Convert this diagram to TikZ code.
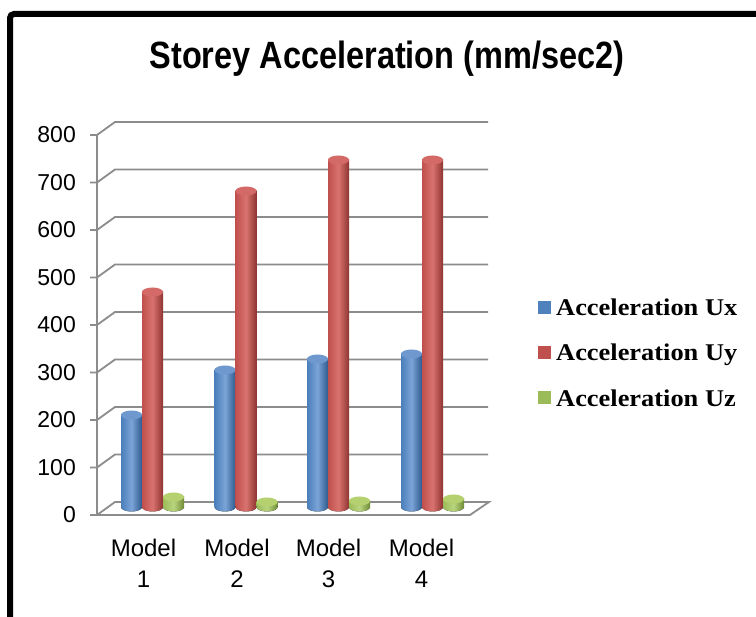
\documentclass[tikz,border=0pt]{standalone}
\usepackage{fontspec}
\setmainfont{Liberation Sans}
\newfontfamily\legfont{Liberation Serif}
\definecolor{gridgray}{HTML}{8C8C8C}
\definecolor{ux}{HTML}{4A7EBB}
\definecolor{uxlight}{HTML}{7BA4D7}
\definecolor{uxdark}{HTML}{2E5A8E}
\definecolor{uxtop}{HTML}{6F98CF}
\definecolor{uy}{HTML}{C0504D}
\definecolor{uylight}{HTML}{D9736F}
\definecolor{uydark}{HTML}{8F3431}
\definecolor{uytop}{HTML}{D46A67}
\definecolor{uz}{HTML}{9BBB59}
\definecolor{uzlight}{HTML}{B8D47F}
\definecolor{uzdark}{HTML}{6F8C35}
\definecolor{uztop}{HTML}{B5D06F}
\definecolor{legx}{HTML}{4F81BD}
\definecolor{legy}{HTML}{C0504D}
\definecolor{legz}{HTML}{9BBB59}
\newcommand\cylbar[3]{%
  \pgfmathsetmacro\cylcx{#1+10.5}%
  \pgfmathsetmacro\cylxr{#1+21}%
  \fill[left color=#3, right color=#3dark, middle color=#3light] (\cylcx,507) ellipse [x radius=10.5, y radius=4.5];
  \fill[left color=#3, right color=#3dark, middle color=#3light] (#1,507) rectangle (\cylxr,#2);
  \fill[#3top] (\cylcx,#2) ellipse [x radius=10.5, y radius=4.5];
}
\begin{document}
\begin{tikzpicture}[x=1pt,y=-1pt,
  grid/.style={draw=gridgray, line width=1.8pt, line join=miter},
  ticklab/.style={anchor=east, inner sep=0pt, font=\fontsize{23}{23}\selectfont},
  catlab/.style={anchor=base, inner sep=0pt, font=\fontsize{24}{24}\selectfont},
  legtext/.style={anchor=base west, inner sep=0pt, font=\legfont\bfseries\fontsize{24}{24}\selectfont},
  legbox/.style={minimum size=13pt, inner sep=0pt, draw=none, anchor=center},
  titlestyle/.style={anchor=base, inner sep=0pt, font=\bfseries\fontsize{38}{38}\selectfont}]
\useasboundingbox (0,0) rectangle (756,617);
\fill[white] (0,0) rectangle (756,617);
% frame
\begin{scope}
  \clip (0,0) rectangle (756,617);
  \draw[line width=6pt, rounded corners=4pt] (10,650) -- (10,14) -- (800,14);
\end{scope}
% title
\node[titlestyle] (title) at (387,69) {\scalebox{0.855}[1]{Storey Acceleration (mm/sec2)}};
% grid
\draw[grid] (90,515) -- (470,515) -- (489,502) -- (115,502) -- (97,515);
\draw[grid] (97,135) -- (97,515);
\node[ticklab] (lab0) at (76,515) {0};
\foreach \v in {100,200,...,800}{
  \pgfmathsetmacro\fy{515-0.475*\v}
  \pgfmathsetmacro\by{502-0.475*\v}
  \draw[grid] (90,\fy) -- (97,\fy) -- (115,\by) -- (488,\by);
  \node[ticklab] (lab\v) at (76,\fy) {\v};
}
% bars
\cylbar{121}{415}{ux}
\cylbar{142}{292}{uy}
\cylbar{163}{497}{uz}
\cylbar{214.5}{370}{ux}
\cylbar{235.5}{191}{uy}
\cylbar{256.5}{502}{uz}
\cylbar{307}{359}{ux}
\cylbar{328}{160}{uy}
\cylbar{349}{501}{uz}
\cylbar{401}{354}{ux}
\cylbar{422}{160}{uy}
\cylbar{443}{499}{uz}
% categories
\node[catlab] (m1) at (143.5,557) {Model};
\node[catlab] (n1) at (143.5,588) {1};
\node[catlab] (m2) at (237,557) {Model};
\node[catlab] (n2) at (237,588) {2};
\node[catlab] (m3) at (328.5,557) {Model};
\node[catlab] (n3) at (328.5,588) {3};
\node[catlab] (m4) at (421.5,557) {Model};
\node[catlab] (n4) at (421.5,588) {4};
% legend
\node[legbox, fill=legx] (kx) at (544.5,307.5) {};
\node[legbox, fill=legy] (ky) at (544.5,352.5) {};
\node[legbox, fill=legz] (kz) at (544.5,398) {};
\node[legtext] (tx) at (556,316) {\scalebox{1.1}[1]{Acceleration Ux}};
\node[legtext] (ty) at (556,361) {\scalebox{1.1}[1]{Acceleration Uy}};
\node[legtext] (tz) at (556,406.5) {\scalebox{1.1}[1]{Acceleration Uz}};
\end{tikzpicture}
\end{document}
